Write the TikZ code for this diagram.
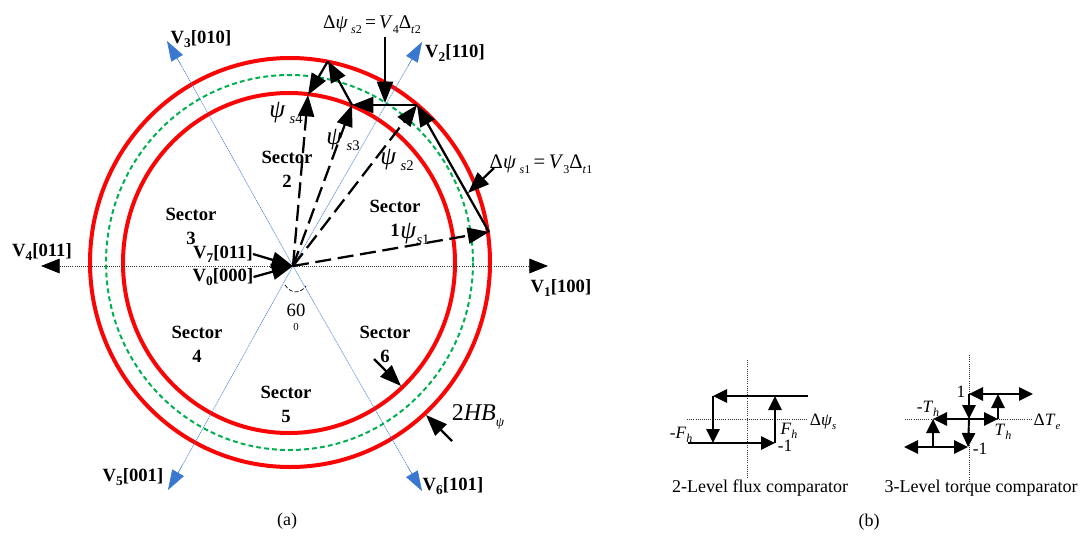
\documentclass[tikz,border=0pt]{standalone}
\usepackage{fontspec}
\setmainfont{Liberation Serif}
\usetikzlibrary{arrows.meta}
\definecolor{ringred}{RGB}{250,5,5}
\definecolor{ringgreen}{RGB}{0,176,80}
\definecolor{axisblue}{RGB}{58,120,208}
\tikzset{
 bighead/.style={-{Triangle[length=16pt,width=12pt]},line width=1.7pt},
 fluxdash/.style={bighead,dash pattern=on 12pt off 5pt},
 hyshead/.style={-{Triangle[length=10.5pt,width=10pt]},line width=1.4pt},
 hysboth/.style={{Triangle[length=10.5pt,width=10pt]}-{Triangle[length=10.5pt,width=10pt]},line width=1.4pt},
 blueaxis/.style={draw=axisblue,line width=.4pt,dash pattern=on 1pt off .5pt},
 bluetip/.style={-{Triangle[length=15pt,width=10pt]},draw=axisblue,fill=axisblue,line width=.4pt},
 fine/.style={line width=.6pt,densely dotted,black!80},
 sector/.style={font=\fontsize{14}{18}\selectfont\bfseries,align=center},
 vec/.style={font=\fontsize{14}{16}\selectfont\bfseries,inner sep=0pt},
 lab/.style={font=\fontsize{13.5}{16}\selectfont},
 fluxlab/.style={font=\fontsize{19}{20}\selectfont,inner sep=0pt},
 hyslab/.style={font=\fontsize{13}{13}\selectfont}
}
\newcommand{\lowtxt}[2]{\raisebox{-.25em}{\fontsize{#1}{#1}\selectfont #2}}
\newcommand{\vsub}[1]{\raisebox{-.25em}{\fontsize{10}{10}\selectfont\bfseries #1}}
\begin{document}
\begin{tikzpicture}[x=.75pt,y=-.75pt]
 \useasboundingbox (0,0) rectangle (1081,536);
 \draw[ringred,line width=3pt] (290,262.5) ellipse (200 and 204.5);
 \draw[ringred,line width=3pt] (289,263) ellipse (166 and 170);
 \draw[ringgreen,line width=1.5pt,dash pattern=on 3.6pt off 2.4pt] (289.5,262.5) ellipse (183.5 and 187.5);
 \coordinate (o) at (293,266);
 \coordinate (v1) at (548,266);
 \coordinate (v4) at (41,266);
 \coordinate (v2) at (422,42);
 \coordinate (v5) at (168,490);
 \coordinate (v3) at (167,41);
 \coordinate (v6) at (422,491);
 \coordinate (e2) at (408,66);
 \coordinate (e5) at (182,466);
 \coordinate (e3) at (181,65);
 \coordinate (e6) at (408,467);
 \draw[fine,-{Triangle[length=14pt,width=11pt,black]}] (o)--(v1);
 \draw[fine,-{Triangle[length=14pt,width=11pt,black]}] (o)--(v4);
 \draw[blueaxis] (o)--(e2);
 \draw[blueaxis] (o)--(e3);
 \draw[blueaxis] (o)--(e5);
 \draw[blueaxis] (o)--(e6);
 \draw[bluetip] (e2)--(v2);
 \draw[bluetip] (e3)--(v3);
 \draw[bluetip] (e5)--(v5);
 \draw[bluetip] (e6)--(v6);
 \node[vec] (n1) at (561,288) {V\vsub{1}[100]};
 \node[vec] (n2) at (455,53) {V\vsub{2}[110]};
 \node[vec] (n3) at (201,39) {V\vsub{3}[010]};
 \node[vec] (n4) at (42,252) {V\vsub{4}[011]};
 \node[vec] (n5) at (133,477) {V\vsub{5}[001]};
 \node[vec] (n6) at (453,486) {V\vsub{6}[101]};
 \node[vec] (n7) at (223,254) {V\vsub{7}[011]};
 \node[vec] (n0) at (223,277) {V\vsub{0}[000]};
 \draw[bighead] (n7.east)--(o);
 \draw[bighead] (n0.east)--(o);
 \node[sector] (s1) at (395,218) {Sector\\1};
 \node[sector] (s2) at (287,169) {Sector\\2};
 \node[sector] (s3) at (191,226) {Sector\\3};
 \node[sector] (s4) at (197,344) {Sector\\4};
 \node[sector] (s5) at (286,404) {Sector\\5};
 \node[sector] (s6) at (385,344) {Sector\\6};
 \coordinate (p1) at (489,232);
 \coordinate (p2) at (417,105);
 \coordinate (p3) at (352,105);
 \coordinate (p4) at (328,61);
 \coordinate (p5) at (308,95);
 \draw[fluxdash] (o)--(p1);
 \draw[fluxdash] (o)--(p2);
 \draw[fluxdash] (o)--(p3);
 \draw[fluxdash] (o)--(p5);
 \draw[bighead] (p1)--(p2);
 \draw[bighead] (p2)--(p3);
 \draw[bighead] (p3)--(p4);
 \draw[bighead] (p4)--(p5);
 \node[fluxlab] (f1) at (415,234) {\textit{ψ}\lowtxt{11}{\textit{s}1}};
 \node[fluxlab] (f2) at (397,160) {\textit{ψ}\,\lowtxt{11}{\textit{s}2}};
 \node[fluxlab] (f3) at (343,140) {\textit{ψ}\,\lowtxt{11}{\textit{s}3}};
 \node[fluxlab] (f4) at (286,113) {\textit{ψ}\,\lowtxt{11}{\textit{s}4}};
 \node[font=\fontsize{14.5}{16}\selectfont] (d2) at (372,25) {Δ\textit{ψ}\,\lowtxt{9}{\textit{s}2}\,=\,\textit{V}\lowtxt{9}{4}Δ\lowtxt{9}{\textit{t}2}};
 \node[font=\fontsize{15.5}{16}\selectfont] (d1) at (541,164) {Δ\textit{ψ}\,\lowtxt{9}{\textit{s}1}\,=\,\textit{V}\lowtxt{9}{3}Δ\lowtxt{9}{\textit{t}1}};
 \coordinate (a2) at (385,37);
 \coordinate (b2) at (385,103);
 \coordinate (a1) at (494,168);
 \coordinate (b1) at (468,193);
 \draw[bighead] (a2)--(b2);
 \draw[bighead] (a1)--(b1);
 \coordinate (a3) at (374,359);
 \coordinate (b3) at (401,386);
 \coordinate (a4) at (452,441);
 \coordinate (b4) at (426,415);
 \draw[bighead] (a3)--(b3);
 \draw[bighead] (a4)--(b4);
 \node[font=\fontsize{18}{18}\selectfont] (hb) at (478,417) {2\textit{HB}\lowtxt{10}{\textit{ψ}}};
 \draw[line width=.5pt,dash pattern=on 3pt off 1.5pt] (285,285) .. controls (291,294) and (300,294) .. (306,286);
 \node[font=\fontsize{14}{14}\selectfont] (deg) at (296,310) {60};
 \node[font=\fontsize{8}{8}\selectfont] (deg0) at (296,327) {0};
 \node[lab] (capa) at (287,521) {(a)};
 \node[lab] (capb) at (869,522) {(b)};
 % 2-level comparator
 \coordinate (fa) at (747,360);
 \coordinate (fb) at (747,478);
 \coordinate (fc) at (687,419);
 \coordinate (fd) at (807,419);
 \draw[fine] (fa)--(fb);
 \draw[fine] (fc)--(fd);
 \coordinate (f5) at (808,396);
 \coordinate (f6) at (713,396);
 \coordinate (f7) at (713,443);
 \coordinate (f8) at (688,443);
 \coordinate (f9) at (775,443);
 \coordinate (f10) at (775,396);
 \draw[hyshead] (f5)--(f6);
 \draw[hyshead] (f6)--(f7);
 \draw[hyshead] (f8)--(f9);
 \draw[hyshead] (f9)--(f10);
 \node[lab] (t1) at (760,488) {2-Level flux comparator};
 \node[hyslab] (t2) at (823,422) {Δ\textit{ψ}\lowtxt{8}{\textit{s}}};
 \node[hyslab] (t3) at (789,431) {\textit{F}\lowtxt{9}{\textit{h}}};
 \node[hyslab] (t4) at (681,435) {-\textit{F}\lowtxt{9}{\textit{h}}};
 \node[hyslab] (t5) at (785,446) {-1};
 % 3-level comparator
 \coordinate (ta) at (969,355);
 \coordinate (tb) at (969,483);
 \coordinate (tc) at (905,419);
 \coordinate (td) at (1032,419);
 \draw[fine] (ta)--(tb);
 \draw[fine] (tc)--(td);
 \coordinate (g1) at (969,394);
 \coordinate (g2) at (1033,394);
 \coordinate (g3) at (998,419);
 \coordinate (g4) at (998,394);
 \coordinate (g5) at (933,419);
 \coordinate (g6) at (933,447);
 \coordinate (g7) at (904,447);
 \coordinate (g8) at (968,447);
 \coordinate (g9) at (969,419);
 \draw[hysboth] (g1)--(g2);
 \draw[hyshead] (g1)--(g9);
 \draw[hyshead] (g3)--(g4);
 \draw[hysboth] (g5)--(g3);
 \draw[hyshead] (g6)--(g5);
 \draw[hysboth] (g7)--(g8);
 \draw[hyshead] (g9)--(g8);
 \node[lab] (u1) at (981,488) {3-Level torque comparator};
 \node[hyslab] (u2) at (1047,422) {Δ\textit{T}\lowtxt{8}{\textit{e}}};
 \node[hyslab] (u3) at (1003,432) {\textit{T}\lowtxt{9}{\textit{h}}};
 \node[hyslab] (u4) at (928,409) {-\textit{T}\lowtxt{9}{\textit{h}}};
 \node[hyslab] (u5) at (980,449) {-1};
 \node[hyslab] (u6) at (961,392) {1};
\end{tikzpicture}
\end{document}
